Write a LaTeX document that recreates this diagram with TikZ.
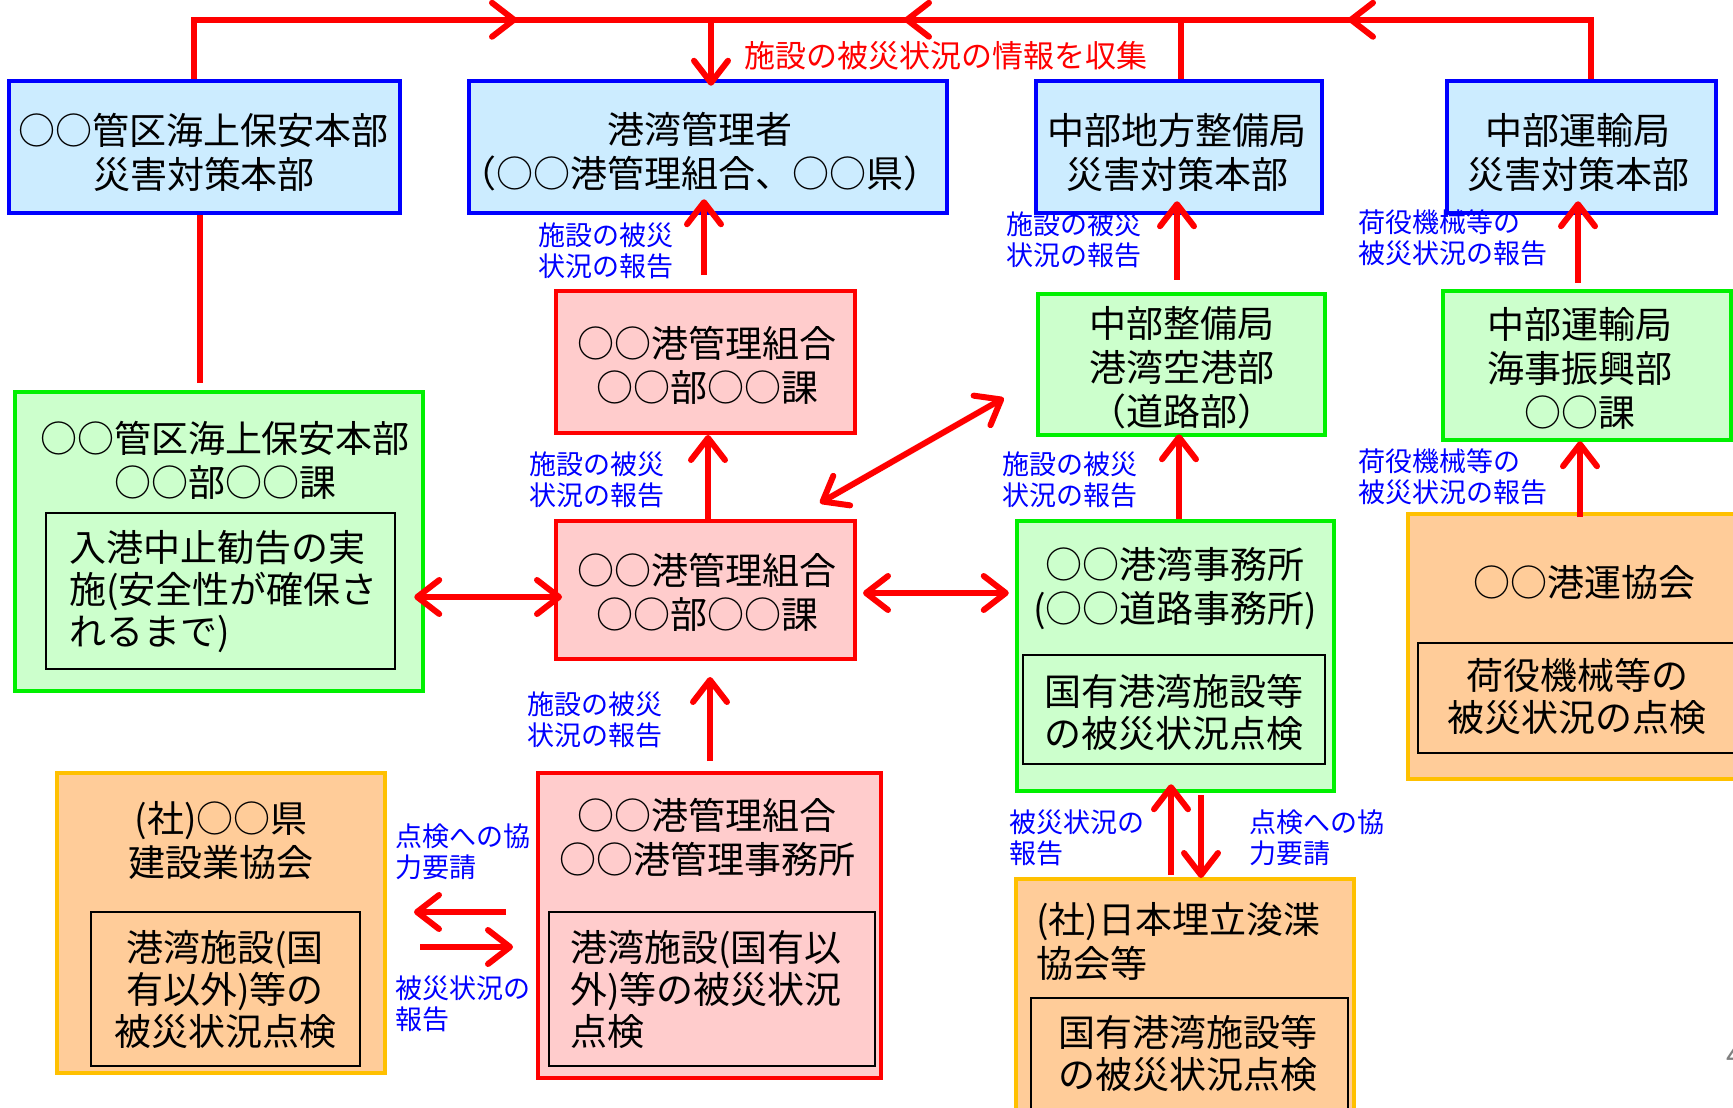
\documentclass[tikz,border=0pt]{standalone}
\usepackage{fontspec}
\setmainfont{Noto Sans CJK JP}
\usetikzlibrary{arrows.meta,calc,decorations.markings}
\definecolor{bfill}{RGB}{204,236,255}
\definecolor{rfill}{RGB}{255,204,204}
\definecolor{gfill}{RGB}{204,255,204}
\definecolor{ofill}{RGB}{255,204,153}
\definecolor{obord}{RGB}{255,192,0}
\definecolor{gbord}{RGB}{0,240,0}
\newcommand\ftbig{\fontsize{37}{44}\selectfont}
\newcommand\ftin{\fontsize{37}{42}\selectfont}
\newcommand\ftlab{\fontsize{27}{31}\selectfont}
\newcommand\ftred{\fontsize{31}{34}\selectfont}
\tikzset{
  bluebox/.style={rectangle, draw=blue, fill=bfill, line width=4.5pt, inner sep=0pt},
  redbox/.style={rectangle, draw=red, fill=rfill, line width=4pt, inner sep=0pt},
  greenbox/.style={rectangle, draw=gbord, fill=gfill, line width=4.5pt, inner sep=0pt},
  orangebox/.style={rectangle, draw=obord, fill=ofill, line width=4pt, inner sep=0pt},
  innerbox/.style={rectangle, draw=black, line width=1.5pt, inner sep=0pt},
  txt/.style={inner sep=0pt, align=center, font=\ftbig},
  intxt/.style={inner sep=0pt, align=center, font=\ftin},
  lab/.style={inner sep=0pt, align=left, text=blue, font=\ftlab, anchor=west},
  redln/.style={draw=red, line width=6pt},
  barb/.tip={Straight Barb[length=22pt,width=34pt,line cap=round,line join=round]},
  arr/.style={redln, -barb},
  darr/.style={redln, barb-barb}
}
\begin{document}
\begin{tikzpicture}[x=1pt,y=-1pt]
\useasboundingbox (0,0) rectangle (1733,1108);
\clip (0,0) rectangle (1733,1108);

% boxes
\node[bluebox, minimum width=391pt, minimum height=132pt] (A) at (204.5,147) {};
\node[bluebox, minimum width=478pt, minimum height=132pt] (B) at (708,147) {};
\node[bluebox, minimum width=286pt, minimum height=132pt] (C) at (1179,147) {};
\node[bluebox, minimum width=269pt, minimum height=132pt] (D) at (1581.5,147) {};

\node[redbox, minimum width=299pt, minimum height=142pt] (E) at (705.5,362) {};
\node[redbox, minimum width=299pt, minimum height=138pt] (F) at (705.5,590) {};
\node[redbox, minimum width=343pt, minimum height=305pt] (G) at (709.5,925.5) {};
\node[innerbox, minimum width=326pt, minimum height=154pt] (G2) at (712,989) {};

\node[greenbox, minimum width=408pt, minimum height=299pt] (H) at (219,541.5) {};
\node[innerbox, minimum width=349pt, minimum height=156pt] (H2) at (220.5,591) {};
\node[greenbox, minimum width=287pt, minimum height=141pt] (I) at (1181.5,364.5) {};
\node[greenbox, minimum width=288pt, minimum height=149pt] (J) at (1587,365.5) {};
\node[greenbox, minimum width=317pt, minimum height=270pt] (K) at (1175.5,656) {};
\node[innerbox, minimum width=302pt, minimum height=109pt] (K2) at (1174,709.5) {};

\node[orangebox, minimum width=328pt, minimum height=300pt] (L) at (221,923) {};
\node[innerbox, minimum width=269pt, minimum height=154pt] (L2) at (225.5,989) {};
\node[orangebox, minimum width=362pt, minimum height=265pt] (M) at (1589,646.5) {};
\node[innerbox, minimum width=352pt, minimum height=110pt] (M2) at (1594,698) {};
\node[orangebox, minimum width=338pt, minimum height=261pt] (N) at (1185,1009.5) {};
\node[innerbox, minimum width=317pt, minimum height=142pt] (N2) at (1189.5,1069) {};

% box texts
\node[txt] (At) at (204,152) {○○管区海上保安本部\\災害対策本部};
\node[txt] (Bt) at (700,152) {港湾管理者\\（○○港管理組合、○○県）};
\node[txt] (Ct) at (1177,152) {中部地方整備局\\災害対策本部};
\node[txt] (Dt) at (1578,152) {中部運輸局\\災害対策本部};
\node[txt] (Et) at (707,365) {○○港管理組合\\○○部○○課};
\node[txt] (Ft) at (707,592) {○○港管理組合\\○○部○○課};
\node[txt] (Gt) at (707,837) {○○港管理組合\\○○港管理事務所};
\node[intxt, align=left, anchor=west] (G2t) at (570,990) {港湾施設(国有以\\外)等の被災状況\\点検};
\node[txt] (Ht) at (225,460) {○○管区海上保安本部\\○○部○○課};
\node[intxt, align=left, anchor=west] (H2t) at (69,592) {入港中止勧告の実\\施(安全性が確保さ\\れるまで)};
\node[txt] (It) at (1182,368) {中部整備局\\港湾空港部\\（道路部）};
\node[txt] (Jt) at (1580,368) {中部運輸局\\海事振興部\\○○課};
\node[txt] (Kt) at (1175,589) {○○港湾事務所\\(○○道路事務所)};
\node[intxt] (K2t) at (1174,712) {国有港湾施設等\\の被災状況点検};
\node[txt] (Lt) at (221,840) {(社)○○県\\建設業協会};
\node[intxt] (L2t) at (225,990) {港湾施設(国\\有以外)等の\\被災状況点検};
\node[txt] (Mt) at (1584,582) {○○港運協会};
\node[intxt] (M2t) at (1577,696) {荷役機械等の\\被災状況の点検};
\node[txt, align=left, anchor=west] (Nt) at (1036,941) {(社)日本埋立浚渫\\協会等};
\node[intxt] (N2t) at (1188,1053) {国有港湾施設等\\の被災状況点検};

% labels
\node[inner sep=0pt, anchor=west, text=red, font=\ftred] (R1) at (744,56) {施設の被災状況の情報を収集};
\node[lab] (L1) at (538,251) {施設の被災\\状況の報告};
\node[lab] (L2b) at (529,480) {施設の被災\\状況の報告};
\node[lab] (L3) at (527,720) {施設の被災\\状況の報告};
\node[lab] (L4) at (1006,240) {施設の被災\\状況の報告};
\node[lab] (L5) at (1002,480) {施設の被災\\状況の報告};
\node[lab] (L6) at (1358,238) {荷役機械等の\\被災状況の報告};
\node[lab] (L7) at (1358,477) {荷役機械等の\\被災状況の報告};
\node[lab] (L8) at (1009,838) {被災状況の\\報告};
\node[lab] (L9) at (1249,838) {点検への協\\力要請};
\node[lab] (L10) at (395,852) {点検への協\\力要請};
\node[lab] (L11) at (395,1004) {被災状況の\\報告};
\node[inner sep=0pt, anchor=west, text=gray, font=\ftred] (pg) at (1726,1055) {4};

% top collection bar
\draw[redln, postaction={decorate}, decoration={markings,
    mark=at position 382pt with {\arrow{barb}},
    mark=at position 769pt with {\arrowreversed{barb}},
    mark=at position 1213pt with {\arrowreversed{barb}}}]
  ($(A.north)+(-10.5,0)$) |- ($(D.north)+(9.5,-59)$) -- ($(D.north)+(9.5,0)$);
\draw[arr] ($(B.north)+(3,-59)$) -- ($(B.north)+(3,7)$);
\draw[redln] ($(C.north)+(2,-59)$) -- ($(C.north)+(2,0)$);
\draw[redln] ($(A.south)+(-4.5,0)$) -- ($(H.north)+(-19,-7)$);

% vertical reports
\draw[arr] ($(E.north)+(-1.5,-14)$) -- ($(B.south)+(-4,-16)$);
\draw[arr] ($(F.north)+(2.5,0)$) -- ($(E.south)+(2.5,0)$);
\draw[arr] ($(G.north)+(0.5,-10)$) -- ($(F.south)+(4.5,16)$);
\draw[arr] ($(I.north)+(-4.5,-12)$) -- ($(C.south)+(-2,-14)$);
\draw[arr] ($(K.north)+(3.5,0)$) -- ($(I.south)+(-2.5,-3)$);
\draw[arr] ($(J.north)+(-9,-6)$) -- ($(D.south)+(-3.5,-14)$);
\draw[arr] ($(M.north)+(-9,5)$) -- ($(J.south)+(-7,-1)$);

% horizontal / diagonal
\draw[darr] ($(H.east |- 0,597)+(-11,0)$) -- ($(F.west |- 0,597)+(8,0)$);
\draw[darr] ($(F.east |- 0,593)+(6,0)$) -- ($(K.west |- 0,593)+(-6,0)$);
\draw[darr] ($(F.north east)+(-37,-16)$) -- ($(I.west)+(-32,33.5)$);

% K <-> N
\draw[arr] ($(N.north)+(-14,-2)$) -- ($(K.south)+(-4.5,-9)$);
\draw[arr] ($(K.south)+(25.5,2)$) -- ($(N.north)+(16,1)$);

% G <-> L
\draw[arr] ($(G.west |- 0,912)+(-30,0)$) -- ($(L.east |- 0,912)+(27,0)$);
\draw[arr] ($(L.east |- 0,947)+(33,0)$) -- ($(G.west |- 0,947)+(-23,0)$);
\end{tikzpicture}
\end{document}
